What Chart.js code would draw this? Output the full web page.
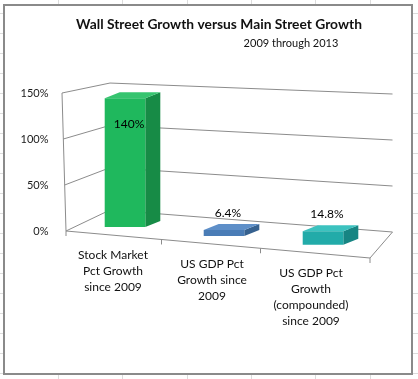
<!DOCTYPE html>
<html><head><meta charset="utf-8">
<script src="https://cdn.jsdelivr.net/npm/chart.js@4.4.1/dist/chart.umd.min.js"></script>
<style>
html,body{margin:0;padding:0;width:418px;height:379px;overflow:hidden;background:#fff;}
#wrap{position:absolute;left:0;top:0;width:418px;height:379px;}
</style></head>
<body><div id="wrap"><canvas id="c" width="418" height="379"></canvas></div>
<script>
const categories = [["Stock Market","Pct Growth","since 2009"],["US GDP Pct","Growth since","2009"],["US GDP Pct","Growth","(compounded)","since 2009"]];
const values = [140, 6.4, 14.8];
const valueLabels = ["140%","6.4%","14.8%"];
const yTicks = [0, 50, 100, 150];
const frontColors = ['#1fb85d','#4a7cb6','#22aba9'];
const topColors = ['#36c46f','#5e8fc8','#3cc2bf'];
const sideColors = ['#178b46','#36618f','#178583'];
const titleText = "Wall Street Growth versus Main Street Growth";
const subtitleText = "2009 through 2013";

const FONT = "Lato, 'Liberation Sans', sans-serif";
const DEPTH = {dx: 15, dy: -6};

function geom(chart){
  const ca = chart.chartArea;
  const L = ca.left, R = ca.right, T = ca.top, B = ca.bottom, H = B - T;
  return {L,R,T,B,H,
    FL:{x:L-9.5,y:B}, FR:{x:R-2.5,y:B+27},
    BL:{x:L+34.5,y:B-21}, BR:{x:R+20,y:B+1},
    hBL:H*0.92, hBR:H*1.0,
    off:(x)=>0.09*(x-(L+93.5))
  };
}
function frontEdgeY(g,x){ return g.FL.y + (x-g.FL.x)*(g.FR.y-g.FL.y)/(g.FR.x-g.FL.x); }

const threeD = {
  id:'threeD',
  beforeDraw(chart){
    const ctx = chart.ctx;
    ctx.save();
    ctx.strokeStyle = '#dcdcdc'; ctx.lineWidth = 1;
    [58,122,187,251,315,370].forEach(x=>{ctx.beginPath();ctx.moveTo(x+0.5,0);ctx.lineTo(x+0.5,379);ctx.stroke();});
    for(let y=13;y<379;y+=20){ctx.beginPath();ctx.moveTo(0,y+0.5);ctx.lineTo(418,y+0.5);ctx.stroke();}
    ctx.fillStyle = '#fff';
    ctx.fillRect(3,4,410,371);
    ctx.strokeStyle = '#8a8a8a'; ctx.lineWidth = 2;
    ctx.strokeRect(4,5,408,369);
    ctx.restore();
  },
  beforeDatasetsDraw(chart){
    const ctx = chart.ctx, g = geom(chart), ys = chart.scales.y;
    ctx.save();
    ctx.strokeStyle = '#8c8c8c'; ctx.lineWidth = 1;
    yTicks.forEach(v=>{
      const f = (g.B - ys.getPixelForValue(v))/g.H;
      ctx.beginPath();
      ctx.moveTo(g.FL.x-4*f, g.FL.y-f*g.H);
      ctx.lineTo(g.BL.x, g.BL.y-f*g.hBL);
      ctx.lineTo(g.BR.x, g.BR.y-f*g.hBR);
      ctx.stroke();
    });
    ctx.beginPath(); ctx.moveTo(g.FL.x,g.FL.y); ctx.lineTo(g.FL.x-4,g.T); ctx.stroke();
    ctx.beginPath(); ctx.moveTo(g.FL.x,g.FL.y); ctx.lineTo(g.FR.x,g.FR.y); ctx.lineTo(g.BR.x,g.BR.y); ctx.stroke();
    const meta = chart.getDatasetMeta(0);
    const tx = [g.FL.x];
    for(let i=0;i<meta.data.length-1;i++) tx.push((meta.data[i].x+meta.data[i+1].x)/2-13);
    tx.push(g.FR.x);
    tx.forEach(x=>{const y=frontEdgeY(g,x);ctx.beginPath();ctx.moveTo(x,y);ctx.lineTo(x,y+5);ctx.stroke();});
    meta.data.forEach((el,i)=>{
      const p = el.getProps(['x','y','base','width'], true);
      const o = g.off(p.x);
      const xl = p.x-p.width/2, xr = p.x+p.width/2, top = p.y+o, base = p.base+o;
      ctx.fillStyle = sideColors[i];
      ctx.beginPath(); ctx.moveTo(xr,top); ctx.lineTo(xr+DEPTH.dx,top+DEPTH.dy); ctx.lineTo(xr+DEPTH.dx,base+DEPTH.dy); ctx.lineTo(xr,base); ctx.closePath(); ctx.fill();
      ctx.fillStyle = topColors[i];
      ctx.beginPath(); ctx.moveTo(xl,top); ctx.lineTo(xl+DEPTH.dx,top+DEPTH.dy); ctx.lineTo(xr+DEPTH.dx,top+DEPTH.dy); ctx.lineTo(xr,top); ctx.closePath(); ctx.fill();
      ctx.save(); ctx.translate(0,o); el.draw(ctx, chart.chartArea); ctx.restore();
    });
    ctx.restore();
    return false;
  },
  afterDraw(chart){
    const ctx = chart.ctx, g = geom(chart);
    const meta = chart.getDatasetMeta(0);
    ctx.save();
    ctx.fillStyle = '#000'; ctx.textAlign = 'center'; ctx.textBaseline = 'middle';
    ctx.font = "12px " + FONT;
    meta.data.forEach((el,i)=>{
      const o = g.off(el.x); let y = el.y + o + DEPTH.dy - 11;
      if (y < g.T) y = el.y + o + 26;
      ctx.fillText(valueLabels[i], el.x+4, y);
    });
    ctx.fillStyle = '#111';
    meta.data.forEach((el,i)=>{
      const x = el.x - 12, y0 = frontEdgeY(g,x) + 20;
      categories[i].forEach((line,j)=>ctx.fillText(line, x, y0 + j*16));
    });
    ctx.textBaseline = 'alphabetic';
    ctx.font = "bold 13.8px " + FONT;
    ctx.fillText(titleText, 219, 29);
    ctx.font = "11px " + FONT;
    ctx.fillText(subtitleText, 291, 47);
    ctx.restore();
  }
};

new Chart(document.getElementById('c'), {
  type:'bar',
  data:{ labels: categories, datasets:[{ data: values, backgroundColor: frontColors, borderWidth:0, categoryPercentage:1, barPercentage:0.41 }]},
  options:{
    responsive:false, animation:false, devicePixelRatio:1,
    layout:{padding:{left:0,right:45.5,top:93,bottom:148}},
    plugins:{legend:{display:false}, tooltip:{enabled:false}},
    scales:{
      x:{type:'category', offset:true, display:false},
      y:{min:0,max:150,
        afterFit:(a)=>{a.width=75.5;},
        afterBuildTicks:(a)=>{a.ticks = yTicks.map(v=>({value:v}));},
        grid:{display:false, drawTicks:false}, border:{display:false},
        ticks:{padding:27, color:'#1a1a1a', font:{family:FONT,size:11}, callback:(v)=>v+'%'}
      }
    }
  },
  plugins:[threeD]
});
</script></body></html>
